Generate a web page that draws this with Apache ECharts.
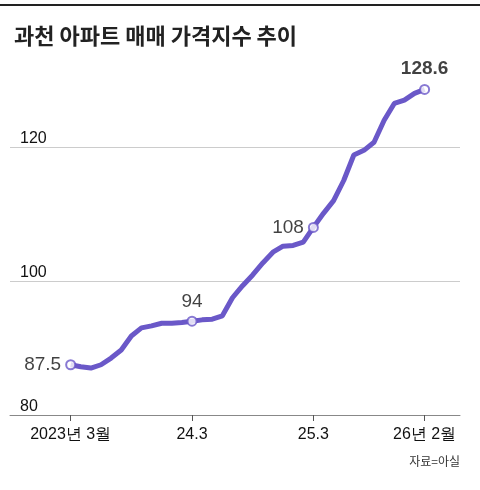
<!DOCTYPE html><html><head><meta charset="utf-8">
<script src="https://cdn.jsdelivr.net/npm/echarts@6/dist/echarts.min.js"></script>
<style>body{margin:0}#c{width:480px;height:490px}</style></head><body><div id="c"></div><script>
const months=['2023.3','2023.4','2023.5','2023.6','2023.7','2023.8','2023.9','2023.10','2023.11','2023.12','2024.1','2024.2','2024.3','2024.4','2024.5','2024.6','2024.7','2024.8','2024.9','2024.10','2024.11','2024.12','2025.1','2025.2','2025.3','2025.4','2025.5','2025.6','2025.7','2025.8','2025.9','2025.10','2025.11','2025.12','2026.1','2026.2'];
const values=[87.5,87.2,87.0,87.5,88.5,89.7,91.8,93.0,93.3,93.7,93.7,93.8,94,94.2,94.3,94.8,97.5,99.3,100.9,102.7,104.3,105.2,105.3,105.8,108,110.1,112,115,118.8,119.5,120.7,124,126.5,127,128,128.6];
const tickIdx=[0,12,24,35];
const tickLabels=['2023년 3월','24.3','25.3','26년 2월'];
const marked=[0,12,24,35];
const markedLabels=['87.5','94','108','128.6'];
const yTicks=[80,100,120];
const F='"Liberation Sans Narrow","Liberation Sans",sans-serif';
const C='#6a58c8';
const ch=echarts.init(document.getElementById('c'));
const pos=['left','top','left','top'];
ch.setOption({animation:false,
graphic:[{type:'rect',left:0,top:4,shape:{width:480,height:2},style:{fill:'#222'}},
{type:'text',left:14,top:25,style:{text:'과천 아파트 매매 가격지수 추이',font:'bold 22px "Noto Sans CJK KR"',fill:'#222'}},
{type:'text',right:20,top:455,style:{text:'자료=아실',font:'12px "Noto Sans CJK KR"',fill:'#333'}}],
grid:{left:10,right:20,top:80,bottom:75},
xAxis:{type:'value',min:-6,max:38.5,splitLine:{show:false},
 axisLine:{lineStyle:{color:'#888'}},
 axisTick:{show:true,customValues:tickIdx,length:6,lineStyle:{color:'#555'}},
 axisLabel:{customValues:tickIdx,formatter:v=>tickLabels[tickIdx.indexOf(v)],color:'#111',margin:12,fontFamily:F,fontSize:16}},
yAxis:{type:'value',min:80,max:130,interval:20,axisLine:{show:false},axisTick:{show:false},
 splitLine:{showMaxLine:false,lineStyle:{color:'#ccc'}},
 axisLabel:{inside:true,verticalAlign:'bottom',margin:10,color:'#111',fontFamily:F,fontSize:16,formatter:v=>yTicks.includes(v)?String(v):''}},
series:[{type:'line',data:values.map((v,i)=>[i,v]),lineStyle:{color:C,width:5},symbol:'none',z:2},
{type:'scatter',data:marked.map((i,k)=>({value:[i,values[i]],label:{show:true,position:pos[k],formatter:markedLabels[k],distance:k==3?6:4,fontWeight:k==3?'bold':'normal'}})),
 symbolSize:9,itemStyle:{color:'#fff',borderColor:C,borderWidth:2},z:3,
 label:{fontFamily:F,fontSize:19,color:'#111'}}]});
</script></body></html>
